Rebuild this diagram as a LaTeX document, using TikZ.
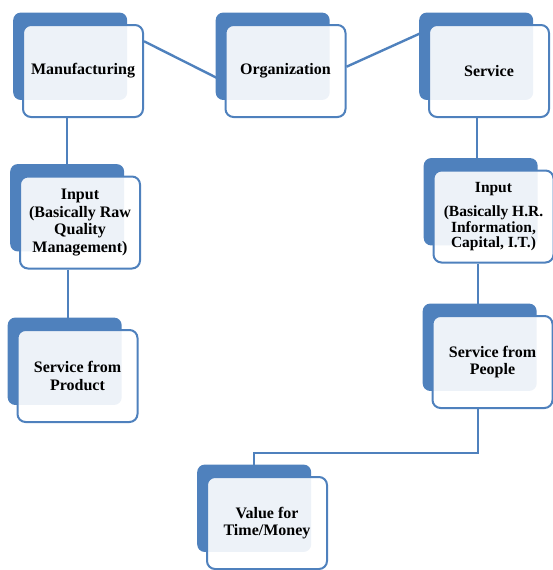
\documentclass[tikz,border=0pt]{standalone}
\usepackage{fontspec}
\setmainfont{Liberation Serif}
\usetikzlibrary{shadows,backgrounds}
\definecolor{boxblue}{RGB}{79,129,189}
\tikzset{
  card/.style={draw=boxblue, line width=2pt, rounded corners=8pt,
    fill=white, fill opacity=.9, text opacity=1,
    minimum width=120pt, minimum height=92pt, align=center,
    font=\bfseries\fontsize{16}{17.5}\selectfont,
    general shadow={fill=boxblue, draw=none, fill opacity=1,
      shadow xshift=-13.5pt, shadow yshift=15.5pt, shadow scale=.95}},
  link/.style={draw=boxblue, line width=2.4pt}
}
\begin{document}
\begin{tikzpicture}[x=1pt, y=-1pt]
  \useasboundingbox (0,0) rectangle (553,570);

  %% top row
  \node[card] (mfg) at (83,71) {Manufacturing};
  \node[card] (org) at (285.5,71) {Organization};
  \node[card] (srv) at (489,71) {Service};

  %% left branch
  \node[card] (inl) at (80,222.5) {Input\\(Basically Raw\\Quality\\Management)};
  \node[card] (sfp) at (77.5,376) {Service from\\Product};

  %% right branch
  \node[card, font=\bfseries\fontsize{15.5}{15.5}\selectfont] (inr) at (493.5,216.5)
    {Input\\[9pt](Basically H.R.\\Information,\\Capital, I.T.)};
  \node[card] (sfpe) at (492.5,362) {Service from\\People};
  \node[card] (val) at (267,523) {Value for\\Time/Money};

  %% links
  \begin{scope}[on background layer]
    \draw[link] (mfg.26) -- (org.190);
    \draw[link] (org.4) -- (srv.146);
    \draw[link] ([xshift=-16pt]mfg.south) -- ([xshift=-16pt]mfg.south |- inl.north);
    \draw[link] ([xshift=-12pt]inl.south) -- ([xshift=-12pt]inl.south |- sfp.north);
    \draw[link] ([xshift=-12pt]srv.south) -- ([xshift=-12pt]srv.south |- inr.north);
    \draw[link] ([xshift=-15.5pt]inr.south) -- ([xshift=-15.5pt]inr.south |- sfpe.north);
    \draw[link] ([xshift=-14.5pt]sfpe.south) -- ++(0,44) -| ([xshift=-13pt]val.north);
  \end{scope}
\end{tikzpicture}
\end{document}
